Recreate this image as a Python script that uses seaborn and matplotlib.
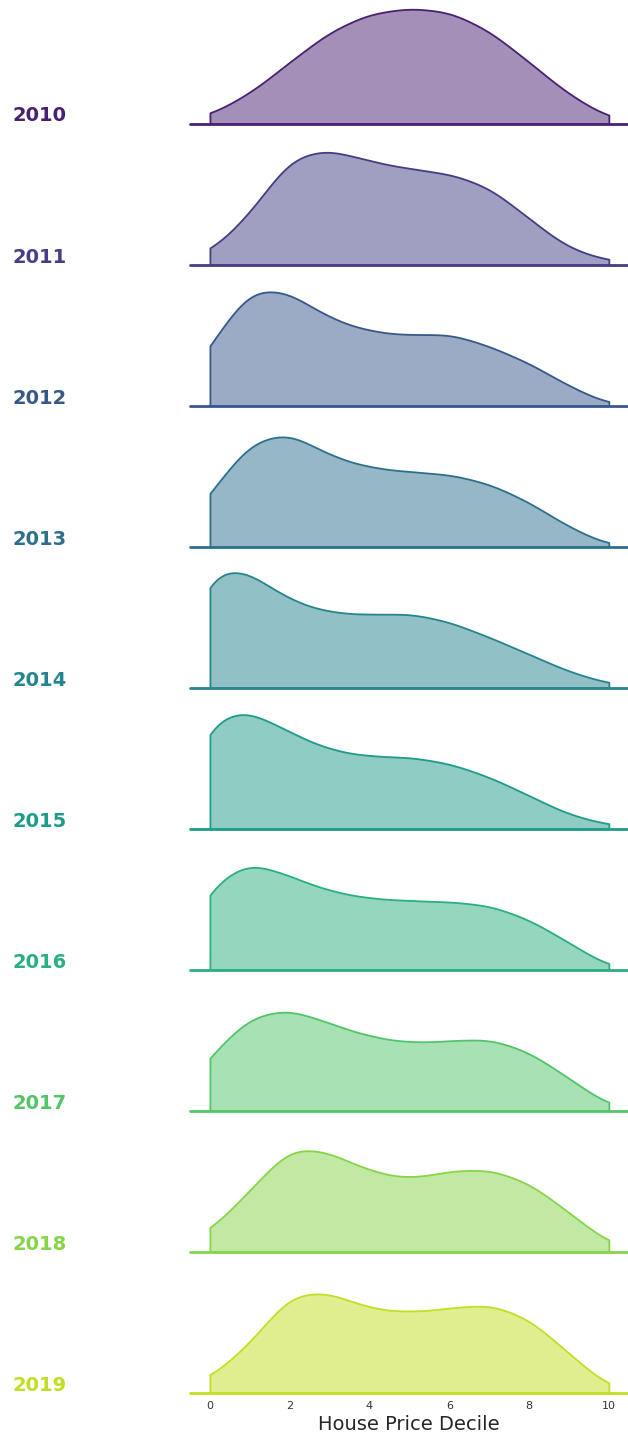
import numpy as np
import matplotlib
matplotlib.use("Agg")
import matplotlib.pyplot as plt
import seaborn as sns

# house price decile positions and the weight (share of sales) per decile
deciles = [0, 1, 2, 3, 4, 5, 6, 7, 8, 9, 10]
years = [2010, 2011, 2012, 2013, 2014, 2015, 2016, 2017, 2018, 2019]

w2010 = [8, 28, 58, 87, 104, 109, 106, 88, 58, 27, 5]
w2011 = [11, 46, 102, 108, 96, 89, 85, 73, 43, 14, 4]
w2012 = [58, 117, 111, 84, 72, 68, 71, 58, 42, 19, 1]
w2013 = [52, 104, 113, 88, 77, 73, 71, 62, 44, 19, 1]
w2014 = [119, 110, 82, 71, 69, 71, 63, 48, 32, 15, 4]
w2015 = [110, 114, 92, 75, 69, 69, 63, 50, 32, 13, 4]
w2016 = [85, 108, 92, 77, 70, 68, 67, 64, 50, 27, 2]
w2017 = [54, 93, 100, 85, 72, 66, 68, 71, 58, 32, 4]
w2018 = [20, 58, 103, 96, 77, 69, 78, 80, 67, 38, 7]
w2019 = [14, 46, 97, 97, 80, 77, 81, 86, 72, 38, 4]
weights = [w2010, w2011, w2012, w2013, w2014, w2015, w2016, w2017, w2018, w2019]

bandwidth = 0.6  # kernel width in decile units

sns.set_theme(style="white", rc={"axes.facecolor": (0, 0, 0, 0)})
pal = sns.color_palette("viridis", len(years))

fig, axes = plt.subplots(len(years), 1, sharex=True, sharey=True,
                         figsize=(6.28, 14.38), dpi=100)
fig.subplots_adjust(left=0.3025, right=1.0, top=0.998, bottom=0.0313, hspace=0.165)

for ax, yr, w, c in zip(axes, years, weights, pal):
    x = np.array(deciles, dtype=float)
    wt = np.array(w, dtype=float)
    mean = np.sum(x * wt) / wt.sum()
    std = np.sqrt(np.sum(wt * (x - mean) ** 2) / wt.sum())
    sns.kdeplot(x=x, weights=wt, bw_method=bandwidth / std, clip=(0, 10),
                fill=True, alpha=0.5, color=c, linewidth=1.3, ax=ax)
    ax.axhline(0, color=c, linewidth=2, clip_on=False)
    ax.text(-0.406, 0.02, str(yr), color=c, fontweight="bold", fontsize=14,
            ha="left", va="baseline", transform=ax.transAxes)
    ax.set_yticks([])
    ax.set_ylabel("")
    sns.despine(ax=ax, left=True, bottom=True)

ax = axes[-1]
ax.set_xlim(-0.5, 10.48)
ax.set_xticks([0, 2, 4, 6, 8, 10])
ax.tick_params(axis="x", length=0, labelsize=8, labelcolor="#333333", pad=6)
ax.set_xlabel("House Price Decile", fontsize=14, color="#262626", labelpad=3)

fig.savefig("out.png", dpi=100)
